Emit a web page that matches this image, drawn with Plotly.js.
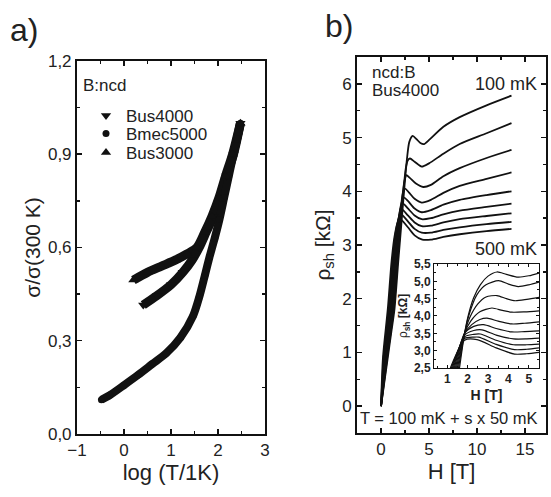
<!DOCTYPE html>
<html><head><meta charset="utf-8">
<script src="https://cdn.plot.ly/plotly-3.0.1.min.js"></script>
<style>body{margin:0;padding:0;background:#fff}</style>
</head><body><div id="chart" style="width:551px;height:497px"></div>
<script>
// Panel a data
const bus3000X = [0.2,0.5,0.8,1.1,1.35,1.55,1.72,1.87,2.02,2.16,2.31,2.477];
const bus3000Y = [0.495,0.52,0.54,0.56,0.58,0.6,0.65,0.7,0.76,0.83,0.9,1.0];
const bus4000X = [0.41,0.7,1.0,1.25,1.45,1.6,1.75,1.9,2.05,2.18,2.33,2.477];
const bus4000Y = [0.415,0.445,0.48,0.52,0.56,0.6,0.65,0.7,0.76,0.83,0.9,1.0];
const bmecX = [-0.48,-0.3,0,0.3,0.6,0.9,1.2,1.47,1.6,1.72,1.82,1.93,2.03,2.13,2.23,2.33,2.41,2.477];
const bmecY = [0.11,0.125,0.157,0.19,0.225,0.26,0.31,0.38,0.44,0.51,0.57,0.63,0.69,0.76,0.83,0.9,0.95,1.0];

// Panel b main curves: 100 mK + s*50 mK, s = 0..8
const mainH = [
 [0,0.35,0.7,1.05,1.4,1.8,2.1,2.4,2.7,2.95,3.3,3.7,4.1,4.5,5.1,6.5,8.2,11,13.6],
 [0,0.64,1.32,1.72,2.0,2.3,2.6,2.8,3.02,3.5,4.24,5,6.5,8.2,11,13.6],
 [0,0.58,1.24,1.64,1.95,2.2,2.45,2.65,3.0,3.6,4.4,5.2,6.5,8.2,11,13.6],
 [0,0.52,1.15,1.55,1.85,2.1,2.3,2.5,2.9,3.5,4.24,5.2,6.5,8.2,11,13.6],
 [0,0.45,1.06,1.46,1.75,2.05,2.4,2.8,3.5,4.24,5.2,6.5,8.2,11,13.6],
 [0,0.39,0.97,1.37,1.7,2.0,2.3,2.8,3.5,4.24,5.2,6.5,8.2,11,13.6],
 [0,0.33,0.88,1.28,1.6,1.9,2.2,2.8,3.5,4.24,5.2,6.5,8.2,11,13.6],
 [0,0.27,0.79,1.19,1.5,1.8,2.1,2.8,3.5,4.24,5.2,6.5,8.2,11,13.6],
 [0,0.2,0.7,1.1,1.4,1.7,2.0,2.8,3.5,4.3,5.2,6.5,8.2,11,13.6]
];
const mainR = [
 [0,0.45,0.9,1.35,1.8,2.7,3.35,4.0,4.6,4.92,5.03,4.97,4.9,4.88,4.97,5.2,5.38,5.6,5.78],
 [0,0.9,1.8,2.7,3.3,3.95,4.45,4.58,4.61,4.55,4.46,4.52,4.7,4.88,5.08,5.27],
 [0,0.9,1.8,2.7,3.3,3.85,4.2,4.3,4.25,4.15,4.08,4.12,4.28,4.43,4.62,4.77],
 [0,0.9,1.8,2.7,3.3,3.75,3.98,4.05,3.98,3.86,3.79,3.84,3.97,4.1,4.23,4.35],
 [0,0.9,1.8,2.7,3.3,3.72,3.88,3.82,3.68,3.61,3.65,3.75,3.84,3.93,4.0],
 [0,0.9,1.8,2.7,3.3,3.65,3.77,3.68,3.55,3.48,3.5,3.57,3.64,3.71,3.77],
 [0,0.9,1.8,2.7,3.25,3.55,3.66,3.55,3.42,3.35,3.36,3.42,3.48,3.54,3.59],
 [0,0.9,1.8,2.7,3.2,3.47,3.57,3.44,3.3,3.23,3.23,3.28,3.33,3.39,3.43],
 [0,0.9,1.8,2.7,3.15,3.4,3.48,3.33,3.18,3.1,3.1,3.15,3.2,3.26,3.3]
];

// Inset curves
const insetH = [
 [1.6,1.85,2.04,2.29,2.62,3.0,3.44,3.9,4.48,5.0,5.5],
 [1.55,1.85,2.05,2.45,2.9,3.52,4.0,4.48,5.0,5.5],
 [1.5,1.85,2.1,2.5,2.9,3.44,3.9,4.33,4.9,5.5],
 [1.45,1.85,2.15,2.6,3.19,3.7,4.17,4.8,5.5],
 [1.4,1.85,2.2,2.6,2.95,3.5,4.17,4.8,5.5],
 [1.35,1.85,2.3,2.78,3.4,4.17,4.8,5.5],
 [1.3,1.85,2.3,2.7,3.4,4.25,4.9,5.5],
 [1.25,1.85,2.3,2.62,3.4,4.25,4.9,5.5],
 [1.2,1.85,2.3,2.54,3.4,4.3,4.9,5.5],
 [1.15,1.85,2.46,3.4,4.3,4.9,5.5]
];
const insetR = [
 [2.5,3.5,4.04,4.52,4.9,5.15,5.27,5.2,5.12,5.16,5.24],
 [2.5,3.5,4.0,4.61,4.9,5.02,4.92,4.85,4.9,4.98],
 [2.5,3.5,3.95,4.35,4.55,4.59,4.5,4.44,4.48,4.54],
 [2.5,3.5,3.85,4.12,4.23,4.16,4.11,4.12,4.15],
 [2.5,3.5,3.75,3.9,3.94,3.85,3.77,3.79,3.83],
 [2.5,3.5,3.7,3.75,3.64,3.54,3.55,3.57],
 [2.5,3.45,3.58,3.6,3.45,3.34,3.34,3.36],
 [2.5,3.4,3.47,3.48,3.3,3.17,3.17,3.19],
 [2.5,3.35,3.39,3.39,3.18,3.03,3.04,3.08],
 [2.5,3.3,3.32,3.08,2.9,2.91,2.95]
];

const FONT = 'Liberation Sans, Arial, Helvetica, sans-serif';
const traces = [];
function band(x, y, w){ return {x:x, y:y, xaxis:'x', yaxis:'y', mode:'lines', line:{color:'#111', width:w, shape:'spline', smoothing:0.8}, showlegend:false, hoverinfo:'skip'}; }
traces.push(band(bus3000X, bus3000Y, 9));
traces.push(band(bus4000X, bus4000Y, 9));
traces.push(band(bmecX, bmecY, 8));
traces.push({x:bus4000X, y:bus4000Y, xaxis:'x', yaxis:'y', mode:'markers', name:'Bus4000', legend:'legend', marker:{symbol:'triangle-down', size:9, color:'#111'}});
traces.push({x:bmecX, y:bmecY, xaxis:'x', yaxis:'y', mode:'markers', name:'Bmec5000', legend:'legend2', marker:{symbol:'circle', size:7, color:'#111'}});
traces.push({x:bus3000X, y:bus3000Y, xaxis:'x', yaxis:'y', mode:'markers', name:'Bus3000', legend:'legend3', marker:{symbol:'triangle-up', size:9, color:'#111'}});

for (let i=0;i<mainH.length;i++){
  traces.push({x:mainH[i], y:mainR[i], xaxis:'x2', yaxis:'y2', mode:'lines', line:{color:'#111', width:1.8, shape:'spline', smoothing:0.7}, showlegend:false});
}
for (let i=0;i<insetH.length;i++){
  traces.push({x:insetH[i], y:insetR[i], xaxis:'x3', yaxis:'y3', mode:'lines', line:{color:'#111', width:1.2, shape:'spline', smoothing:0.7}, showlegend:false});
}

const axBase = {showgrid:false, zeroline:false, showline:true, linecolor:'#111', ticks:'inside', mirror:'allticks', tickcolor:'#111', tickfont:{family:FONT, size:17, color:'#222'}};
function leg(yPix){ return {x:86/551, y:1-yPix/497, xanchor:'left', yanchor:'middle', bgcolor:'rgba(0,0,0,0)', font:{family:FONT, size:17, color:'#222'}, itemwidth:30, itemsizing:'trace'}; }

const layout = {
  width:551, height:497, margin:{l:0,r:0,t:0,b:0}, paper_bgcolor:'#fff', plot_bgcolor:'#fff',
  separators:', ', showlegend:true,
  font:{family:FONT, color:'#222'},
  legend:leg(116), legend2:leg(134), legend3:leg(153),
  xaxis:Object.assign({}, axBase, {domain:[0.1397,0.481], anchor:'y', range:[-1,3], dtick:1, tick0:0, linewidth:2, ticklen:5, tickwidth:1.5,
    minor:{dtick:0.5, ticklen:3, ticks:'inside', tickcolor:'#111'},
    title:{text:'log (T/1K)', font:{family:FONT, size:22, color:'#222'}, standoff:4}}),
  yaxis:Object.assign({}, axBase, {domain:[0.1268,0.8773], anchor:'x', range:[0,1.2], dtick:0.3, tick0:0, tickformat:'.1f', linewidth:2, ticklen:5, tickwidth:1.5,
    minor:{dtick:0.15, ticklen:3, ticks:'inside', tickcolor:'#111'},
    title:{text:'σ/σ(300 K)', font:{family:FONT, size:21, color:'#222'}, standoff:2}}),
  xaxis2:Object.assign({}, axBase, {domain:[0.648,0.991], anchor:'y2', range:[-2.5,17.2], dtick:5, tick0:0, linewidth:2, ticklen:5, tickwidth:1.5,
    minor:{dtick:2.5, ticklen:3, ticks:'inside', tickcolor:'#111'},
    title:{text:'H [T]', font:{family:FONT, size:22, color:'#222'}, standoff:4}}),
  yaxis2:Object.assign({}, axBase, {domain:[0.1288,0.8853], anchor:'x2', range:[-0.5,6.5], dtick:1, tick0:0, linewidth:2, ticklen:5, tickwidth:1.5,
    minor:{dtick:0.5, ticklen:3, ticks:'inside', tickcolor:'#111'},
    title:{text:'ρ<sub>sh</sub> [kΩ]', font:{family:FONT, size:21, color:'#222'}, standoff:6}}),
  xaxis3:Object.assign({}, axBase, {domain:[0.7877,0.9782], anchor:'y3', range:[0.35,5.5], dtick:1, tick0:0, linewidth:1, ticklen:3, tickwidth:1,
    tickfont:{family:FONT, size:12, color:'#222', weight:'bold'},
    minor:{dtick:0.5, ticklen:2, ticks:'inside', tickcolor:'#111'},
    title:{text:'<b>H [T]</b>', font:{family:FONT, size:14, color:'#222'}, standoff:4}}),
  yaxis3:Object.assign({}, axBase, {domain:[0.2596,0.4688], anchor:'x3', range:[2.5,5.5], dtick:0.5, tick0:0, tickformat:'.1f', linewidth:1, ticklen:3, tickwidth:1,
    tickfont:{family:FONT, size:12, color:'#222', weight:'bold'},
    minor:{dtick:0.25, ticklen:2, ticks:'inside', tickcolor:'#111'},
    title:{text:'ρ<sub><b>sh</b></sub> <b>[kΩ]</b>', font:{family:FONT, size:12, color:'#222'}, standoff:3}}),
  annotations:[
    {text:'a)', xref:'paper', yref:'paper', x:8/551, y:1-30/497, xanchor:'left', yanchor:'middle', showarrow:false, font:{family:FONT, size:32, color:'#222'}},
    {text:'b)', xref:'paper', yref:'paper', x:323/551, y:1-26/497, xanchor:'left', yanchor:'middle', showarrow:false, font:{family:FONT, size:32, color:'#222'}},
    {text:'B:ncd', xref:'paper', yref:'paper', x:81/551, y:1-85/497, xanchor:'left', yanchor:'middle', showarrow:false, font:{family:FONT, size:17, color:'#222'}},
    {text:'ncd:B', xref:'paper', yref:'paper', x:370/551, y:1-72/497, xanchor:'left', yanchor:'middle', showarrow:false, font:{family:FONT, size:17, color:'#222'}},
    {text:'Bus4000', xref:'paper', yref:'paper', x:370/551, y:1-91/497, xanchor:'left', yanchor:'middle', showarrow:false, font:{family:FONT, size:17, color:'#222'}},
    {text:'100 mK', xref:'paper', yref:'paper', x:539/551, y:1-84/497, xanchor:'right', yanchor:'middle', showarrow:false, font:{family:FONT, size:18, color:'#222'}},
    {text:'500 mK', xref:'paper', yref:'paper', x:539/551, y:1-249/497, xanchor:'right', yanchor:'middle', showarrow:false, font:{family:FONT, size:18, color:'#222'}},
    {text:'T = 100 mK + s x 50 mK', xref:'paper', yref:'paper', x:358/551, y:1-418/497, xanchor:'left', yanchor:'middle', showarrow:false, font:{family:FONT, size:16.5, color:'#222'}}
  ]
};
Plotly.newPlot('chart', traces, layout, {staticPlot:true});
</script></body></html>
